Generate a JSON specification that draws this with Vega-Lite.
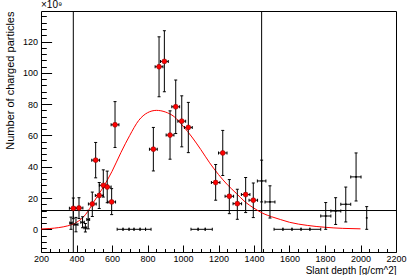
{
  "$schema": "https://vega.github.io/schema/vega-lite/v6.json",
  "width": 355,
  "height": 241,
  "autosize": "none",
  "padding": {"left": 41, "top": 11, "right": 11, "bottom": 23},
  "background": "white",
  "title": {"text": "×10⁹", "anchor": "start", "frame": "group", "fontSize": 10, "font": "Liberation Sans", "fontWeight": "normal", "offset": 1, "color": "black"},
  "config": {
    "view": {"stroke": "black", "strokeWidth": 1},
    "font": "Liberation Sans",
    "axis": {"labelColor": "black", "titleColor": "black", "tickColor": "black", "labelFont": "Liberation Sans", "titleFont": "Liberation Sans", "titleFontWeight": "normal", "grid": false, "domain": false}
  },
  "resolve": {"axis": {"x": "independent", "y": "independent"}},
  "datasets": {
    "pts": [
      {"depth": 382, "n": 13.4, "lo": 6.8, "hi": 20.0, "dlo": 360, "dhi": 404, "grp": "fit"},
      {"depth": 414, "n": 13.6, "lo": 6.9, "hi": 20.2, "dlo": 392, "dhi": 436, "grp": "fit"},
      {"depth": 489, "n": 16.2, "lo": 8.2, "hi": 23.8, "dlo": 467, "dhi": 511, "grp": "fit"},
      {"depth": 508, "n": 44.2, "lo": 32.9, "hi": 55.5, "dlo": 486, "dhi": 530, "grp": "fit"},
      {"depth": 528, "n": 21.6, "lo": 13.3, "hi": 29.9, "dlo": 506, "dhi": 550, "grp": "fit"},
      {"depth": 551, "n": 28.1, "lo": 20.6, "hi": 38.0, "dlo": 529, "dhi": 573, "grp": "fit"},
      {"depth": 573, "n": 27.0, "lo": 17.0, "hi": 37.2, "dlo": 551, "dhi": 595, "grp": "fit"},
      {"depth": 598, "n": 17.5, "lo": 9.4, "hi": 26.0, "dlo": 576, "dhi": 620, "grp": "fit"},
      {"depth": 617, "n": 66.8, "lo": 52.3, "hi": 81.6, "dlo": 595, "dhi": 639, "grp": "fit"},
      {"depth": 833, "n": 51.2, "lo": 37.3, "hi": 65.1, "dlo": 811, "dhi": 855, "grp": "fit"},
      {"depth": 865, "n": 103.9, "lo": 84.7, "hi": 123.0, "dlo": 843, "dhi": 887, "grp": "fit"},
      {"depth": 895, "n": 107.3, "lo": 87.9, "hi": 126.9, "dlo": 873, "dhi": 917, "grp": "fit"},
      {"depth": 927, "n": 60.2, "lo": 44.8, "hi": 75.7, "dlo": 905, "dhi": 949, "grp": "fit"},
      {"depth": 959, "n": 78.3, "lo": 61.2, "hi": 95.4, "dlo": 937, "dhi": 981, "grp": "fit"},
      {"depth": 993, "n": 69.1, "lo": 52.7, "hi": 85.3, "dlo": 971, "dhi": 1015, "grp": "fit"},
      {"depth": 1030, "n": 65.1, "lo": 49.0, "hi": 81.1, "dlo": 1008, "dhi": 1052, "grp": "fit"},
      {"depth": 1184, "n": 29.9, "lo": 18.6, "hi": 41.4, "dlo": 1160, "dhi": 1208, "grp": "fit"},
      {"depth": 1224, "n": 48.8, "lo": 34.4, "hi": 63.2, "dlo": 1200, "dhi": 1248, "grp": "fit"},
      {"depth": 1261, "n": 21.1, "lo": 10.0, "hi": 31.8, "dlo": 1237, "dhi": 1285, "grp": "fit"},
      {"depth": 1306, "n": 16.4, "lo": 6.4, "hi": 25.6, "dlo": 1282, "dhi": 1330, "grp": "fit"},
      {"depth": 1353, "n": 22.2, "lo": 10.7, "hi": 33.1, "dlo": 1329, "dhi": 1377, "grp": "fit"},
      {"depth": 1396, "n": 18.6, "lo": 7.5, "hi": 29.6, "dlo": 1372, "dhi": 1420, "grp": "fit"},
      {"depth": 369, "n": 4.0, "lo": 0.0, "hi": 7.8, "dlo": 362, "dhi": 376, "grp": "other"},
      {"depth": 397, "n": 3.0, "lo": -1.6, "hi": 7.6, "dlo": 386, "dhi": 408, "grp": "other"},
      {"depth": 434, "n": 4.5, "lo": 1.0, "hi": 8.0, "dlo": 424, "dhi": 444, "grp": "other"},
      {"depth": 450, "n": 1.0, "lo": -1.7, "hi": 3.7, "dlo": 442, "dhi": 458, "grp": "other"},
      {"depth": 466, "n": 6.2, "lo": 0.3, "hi": 12.1, "dlo": 458, "dhi": 474, "grp": "other"},
      {"depth": 645, "n": 0, "lo": 0, "hi": 0, "dlo": 629, "dhi": 662, "grp": "other"},
      {"depth": 679, "n": 0, "lo": 0, "hi": 0, "dlo": 662, "dhi": 696, "grp": "other"},
      {"depth": 710, "n": 0, "lo": 0, "hi": 0, "dlo": 696, "dhi": 724, "grp": "other"},
      {"depth": 741, "n": 0, "lo": 0, "hi": 0, "dlo": 724, "dhi": 758, "grp": "other"},
      {"depth": 773, "n": 0, "lo": 0, "hi": 0, "dlo": 758, "dhi": 789, "grp": "other"},
      {"depth": 805, "n": 0, "lo": 0, "hi": 0, "dlo": 789, "dhi": 820, "grp": "other"},
      {"depth": 1065, "n": 0, "lo": 0, "hi": 0, "dlo": 1045, "dhi": 1085, "grp": "other"},
      {"depth": 1105, "n": 0, "lo": 0, "hi": 0, "dlo": 1085, "dhi": 1125, "grp": "other"},
      {"depth": 1145, "n": 0, "lo": 0, "hi": 0, "dlo": 1125, "dhi": 1165, "grp": "other"},
      {"depth": 1538, "n": 0, "lo": 0, "hi": 0, "dlo": 1513, "dhi": 1563, "grp": "other"},
      {"depth": 1589, "n": 0, "lo": 0, "hi": 0, "dlo": 1563, "dhi": 1614, "grp": "other"},
      {"depth": 1640, "n": 0, "lo": 0, "hi": 0, "dlo": 1614, "dhi": 1665, "grp": "other"},
      {"depth": 1690, "n": 0, "lo": 0, "hi": 0, "dlo": 1665, "dhi": 1715, "grp": "other"},
      {"depth": 1745, "n": 0, "lo": 0, "hi": 0, "dlo": 1715, "dhi": 1776, "grp": "other"},
      {"depth": 1443, "n": 30.9, "lo": 17.5, "hi": 44.2, "dlo": 1419, "dhi": 1467, "grp": "other"},
      {"depth": 1490, "n": 17.5, "lo": 7.2, "hi": 27.8, "dlo": 1462, "dhi": 1518, "grp": "other"},
      {"depth": 1804, "n": 8.5, "lo": 0.0, "hi": 17.1, "dlo": 1776, "dhi": 1833, "grp": "other"},
      {"depth": 1860, "n": 11.7, "lo": 3.1, "hi": 20.2, "dlo": 1833, "dhi": 1889, "grp": "other"},
      {"depth": 1917, "n": 16.0, "lo": 4.7, "hi": 27.0, "dlo": 1889, "dhi": 1945, "grp": "other"},
      {"depth": 1975, "n": 33.5, "lo": 18.1, "hi": 48.8, "dlo": 1945, "dhi": 2003, "grp": "other"},
      {"depth": 2035, "n": 7.3, "lo": 0.0, "hi": 14.5, "dlo": 2035, "dhi": 2035, "grp": "other"}
    ],
    "fit": [
      {"depth": 200, "n": 0.2}, {"depth": 250, "n": 0.5}, {"depth": 300, "n": 1.1}, {"depth": 350, "n": 2.2},
      {"depth": 400, "n": 4.4}, {"depth": 450, "n": 9.3}, {"depth": 500, "n": 18.0}, {"depth": 550, "n": 26.8},
      {"depth": 600, "n": 37.0}, {"depth": 650, "n": 49.0}, {"depth": 700, "n": 60.0}, {"depth": 750, "n": 69.5},
      {"depth": 800, "n": 74.5}, {"depth": 850, "n": 76.0}, {"depth": 900, "n": 75.0}, {"depth": 950, "n": 72.0},
      {"depth": 1000, "n": 66.0}, {"depth": 1050, "n": 59.0}, {"depth": 1100, "n": 51.0}, {"depth": 1150, "n": 42.5},
      {"depth": 1200, "n": 35.0}, {"depth": 1250, "n": 28.5}, {"depth": 1300, "n": 23.0}, {"depth": 1350, "n": 17.5},
      {"depth": 1400, "n": 13.5}, {"depth": 1450, "n": 10.2}, {"depth": 1500, "n": 8.0}, {"depth": 1550, "n": 6.2},
      {"depth": 1600, "n": 4.5}, {"depth": 1700, "n": 2.5}, {"depth": 1800, "n": 1.3}, {"depth": 1900, "n": 0.6},
      {"depth": 2000, "n": 0.3}
    ],
    "vlines": [{"depth": 382}, {"depth": 1443}],
    "hlines": [{"n": 12}]
  },
  "layer": [
    {
      "data": {"name": "vlines"},
      "mark": {"type": "rule", "color": "black", "strokeWidth": 1},
      "encoding": {
        "x": {
          "field": "depth", "type": "quantitative",
          "scale": {"domain": [200, 2200], "nice": false, "zero": false},
          "axis": {
            "orient": "bottom",
            "values": [200,400,600,800,1000,1200,1400,1600,1800,2000,2200],
            "format": "d",
            "tickSize": -7,
            "labelPadding": 9,
            "labelOverlap": false, "labelFlush": false, "labelBound": false,
            "labelFontSize": 9,
            "title": "Slant depth [g/cm^2]", "titleAnchor": "end", "titleFontSize": 10, "titlePadding": 2
          }
        }
      }
    },
    {
      "data": {"name": "hlines"},
      "mark": {"type": "rule", "color": "black", "strokeWidth": 1},
      "encoding": {
        "y": {
          "field": "n", "type": "quantitative",
          "scale": {"domain": [-14.5, 139.5], "nice": false, "zero": false},
          "axis": {
            "orient": "left",
            "values": [0, 20, 40, 60, 80, 100, 120],
            "tickSize": -10.6,
            "labelPadding": 14,
            "labelOverlap": false, "labelBound": false, "labelFlush": false,
            "labelFontSize": 9,
            "title": "Number of charged particles", "titleAnchor": "end", "titleFontSize": 11, "titlePadding": 7
          }
        }
      }
    },
    {
      "data": {"name": "fit"},
      "mark": {"type": "line", "color": "#ff0000", "strokeWidth": 1, "interpolate": "monotone"},
      "encoding": {
        "x": {"field": "depth", "type": "quantitative", "scale": {"domain": [200, 2200], "nice": false, "zero": false},
          "axis": {"orient": "bottom", "values": [250,300,350,450,500,550,650,700,750,850,900,950,1050,1100,1150,1250,1300,1350,1450,1500,1550,1650,1700,1750,1850,1900,1950,2050,2100,2150], "tickSize": -3.5, "labels": false, "title": null}},
        "y": {"field": "n", "type": "quantitative", "scale": {"domain": [-14.5, 139.5], "nice": false, "zero": false},
          "axis": {"orient": "left", "values": [-12,-8,-4,4,8,12,16,24,28,32,36,44,48,52,56,64,68,72,76,84,88,92,96,104,108,112,116,124,128,132,136], "tickSize": -5.3, "labels": false, "title": null}}
      }
    },
    {
      "data": {"name": "pts"},
      "transform": [{"filter": "datum.hi > datum.lo"}],
      "mark": {"type": "rule", "color": "black", "strokeWidth": 1},
      "encoding": {
        "x": {"field": "depth", "type": "quantitative", "scale": {"domain": [200, 2200], "nice": false, "zero": false}, "axis": null},
        "y": {"field": "lo", "type": "quantitative", "scale": {"domain": [-14.5, 139.5], "nice": false, "zero": false}, "axis": null},
        "y2": {"field": "hi"}
      }
    },
    {
      "data": {"name": "pts"},
      "transform": [{"filter": "datum.dhi > datum.dlo"}],
      "mark": {"type": "rule", "color": "black", "strokeWidth": 1},
      "encoding": {
        "x": {"field": "dlo", "type": "quantitative", "scale": {"domain": [200, 2200], "nice": false, "zero": false}, "axis": null},
        "x2": {"field": "dhi"},
        "y": {"field": "n", "type": "quantitative", "scale": {"domain": [-14.5, 139.5], "nice": false, "zero": false}, "axis": null}
      }
    },
    {
      "data": {"name": "pts"},
      "transform": [{"filter": "datum.hi > datum.lo"}, {"fold": ["lo", "hi"], "as": ["end", "val"]}],
      "mark": {"type": "tick", "orient": "horizontal", "size": 3, "thickness": 1, "color": "black", "opacity": 1},
      "encoding": {
        "x": {"field": "depth", "type": "quantitative", "scale": {"domain": [200, 2200], "nice": false, "zero": false}, "axis": null},
        "y": {"field": "val", "type": "quantitative", "scale": {"domain": [-14.5, 139.5], "nice": false, "zero": false}, "axis": null}
      }
    },
    {
      "data": {"name": "pts"},
      "transform": [{"filter": "datum.dhi > datum.dlo"}, {"fold": ["dlo", "dhi"], "as": ["end", "pos"]}],
      "mark": {"type": "tick", "orient": "vertical", "size": 3, "thickness": 1, "color": "black", "opacity": 1},
      "encoding": {
        "x": {"field": "pos", "type": "quantitative", "scale": {"domain": [200, 2200], "nice": false, "zero": false}, "axis": null},
        "y": {"field": "n", "type": "quantitative", "scale": {"domain": [-14.5, 139.5], "nice": false, "zero": false}, "axis": null}
      }
    },
    {
      "data": {"name": "pts"},
      "transform": [{"filter": "datum.grp === 'other' && datum.n > 0"}],
      "mark": {"type": "point", "shape": "square", "filled": true, "size": 3, "color": "black", "opacity": 1},
      "encoding": {
        "x": {"field": "depth", "type": "quantitative", "scale": {"domain": [200, 2200], "nice": false, "zero": false}, "axis": null},
        "y": {"field": "n", "type": "quantitative", "scale": {"domain": [-14.5, 139.5], "nice": false, "zero": false}, "axis": null}
      }
    },
    {
      "data": {"name": "pts"},
      "transform": [{"filter": "datum.grp === 'fit'"}],
      "mark": {"type": "point", "shape": "circle", "filled": true, "size": 24, "color": "#ff0000", "opacity": 1, "stroke": "#8b0000", "strokeWidth": 0.6},
      "encoding": {
        "x": {"field": "depth", "type": "quantitative", "scale": {"domain": [200, 2200], "nice": false, "zero": false}, "axis": null},
        "y": {"field": "n", "type": "quantitative", "scale": {"domain": [-14.5, 139.5], "nice": false, "zero": false}, "axis": null}
      }
    }
  ]
}
